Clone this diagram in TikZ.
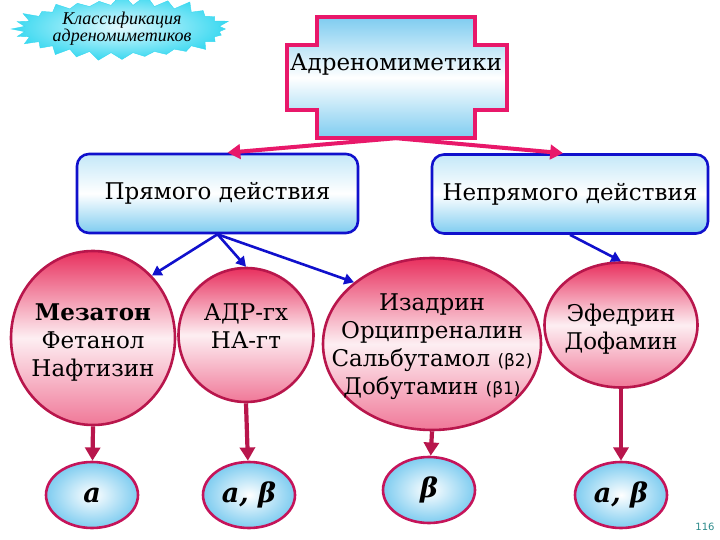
\documentclass[tikz,border=0pt]{standalone}
\usepackage{fontspec}
\setmainfont{DejaVu Serif}
\setsansfont{DejaVu Sans}
\newfontfamily\badgefont{Liberation Serif}
\usetikzlibrary{arrows.meta, shapes.geometric, shapes.symbols}
\definecolor{Crim}  {HTML}{E8186A}
\definecolor{CrimD} {HTML}{B8164C}
\definecolor{Blu}   {HTML}{1010CC}
\definecolor{SkyT}  {HTML}{C4E8F8}
\definecolor{SkyB}  {HTML}{7ECCF0}
\definecolor{RoseT} {HTML}{E8305E}
\definecolor{RoseB} {HTML}{F07898}
\definecolor{Aqua}  {HTML}{38D8F0}
\definecolor{AquaL} {HTML}{E4FAFF}
\definecolor{Teal}  {HTML}{2A8A8A}
\newcommand{\ctr}[2][0pt]{\raisebox{#1}[0pt][0pt]{\makebox[0pt]{\smash{\begin{tabular}{@{}c@{}}#2\end{tabular}}}}}
\newcommand{\sub}[1]{{\sffamily\fontsize{17}{28}\selectfont(#1)}}
\tikzset{
  box/.style={
    rectangle, rounded corners=12pt,
    draw=Blu, line width=2.6pt,
    top color=SkyT, bottom color=SkyB, middle color=white,
    font=\fontsize{23}{27}\selectfont, minimum height=79pt,
  },
  ell/.style args={#1/#2}{
    ellipse, draw=CrimD, line width=2.6pt,
    top color=RoseT, bottom color=RoseB, middle color=white!92!RoseT,
    inner sep=0pt, minimum width=#1, minimum height=#2,
    font=\fontsize{23}{28}\selectfont,
  },
  rcp/.style={
    ellipse, draw=Crim!85!black, line width=2.6pt,
    inner color=white, outer color=SkyB,
    minimum width=92pt, minimum height=66pt, inner sep=0pt,
    font=\fontsize{27}{27}\selectfont\bfseries\itshape,
  },
  crs/.style={
    draw=Crim, line width=4.5pt,
    top color=SkyB, bottom color=SkyB, middle color=white,
  },
  burst/.style={
    starburst, starburst points=28, starburst point height=13pt,
    random starburst=7, draw=Aqua, line width=0.4pt,
    inner color=AquaL, outer color=Aqua,
    minimum width=222pt, minimum height=58pt, inner sep=0pt,
    align=center, font=\badgefont\itshape\fontsize{18}{15}\selectfont,
  },
  arr/.style args={#1/#2}{
    -{Triangle[length=4pt 2.2,width=4pt 2.6]},
    line width=#2, draw=#1,
  },
}

\begin{document}
\begin{tikzpicture}[x=1pt,y=-1pt]
    \useasboundingbox (0,0) rectangle (720,540);

    \node[burst] (cls) at (122,29) {Классификация\\адреномиметиков};

    \path[crs] (317,17) -- (475,17) -- (475,45) -- (507,45) -- (507,110)
       -- (475,110) -- (475,138) -- (317,138) -- (317,110) -- (287,110)
       -- (287,45) -- (317,45) -- cycle;
    \node[font=\fontsize{23}{27}\selectfont, minimum width=158pt, inner sep=0pt,
          text height=54pt, text depth=67pt] (adr) at (396,77.5) {Адреномиметики};

    \node[box,minimum width=281pt] (pr)  at (217.5,193.5) {Прямого действия};
    \node[box,minimum width=276pt] (npr) at (570,194)     {Непрямого действия};
    \draw[arr=Crim/4pt](adr.south)--([xshift=10pt]pr.north);
    \draw[arr=Crim/4pt](adr.south)--([xshift=-7pt]npr.north);

    \node[ell=164pt/174pt] (mez)  at (93,338)  {\ctr[-11pt]{\textbf{Мезатон}\\Фетанол\\Нафтизин}};
    \node[ell=135pt/134pt] (adrg) at (246,335) {\ctr{АДР-гх\\НА-гт}};
    \node[ell=218pt/172pt] (izd)  at (432,344) {\ctr[-9pt]{Изадрин\\Орципреналин\\Сальбутамол \sub{β2}\\Добутамин \sub{β1}}};
    \node[ell=153pt/125pt] (efd)  at (621,325) {\ctr[-11pt]{Эфедрин\\Дофамин}};
    \draw[arr=Blu/2.6pt](pr.south)--(mez.north east);
    \draw[arr=Blu/2.6pt](pr.south)--(adrg.north);
    \draw[arr=Blu/2.6pt](pr.south)--(izd.north west);
    \draw[arr=Blu/2.6pt](npr.south)--(efd.north);

    \node[rcp] (ra)   at (92,495)  {a};
    \node[rcp] (rab)  at (249,495) {a, β};
    \node[rcp] (rb)   at (429,490) {β};
    \node[rcp] (rab2) at (621,495) {a, β};
    \draw[arr=CrimD/4.2pt](mez.south)--(ra);
    \draw[arr=CrimD/4.2pt](adrg.south)--(rab);
    \draw[arr=CrimD/4.2pt](izd.south)--(rb);
    \draw[arr=CrimD/4.2pt](efd.south)--(rab2);

    \node[font=\sffamily\fontsize{10}{10}\selectfont, text=Teal] (pg) at (705,527) {116};
  \end{tikzpicture}
\end{document}
